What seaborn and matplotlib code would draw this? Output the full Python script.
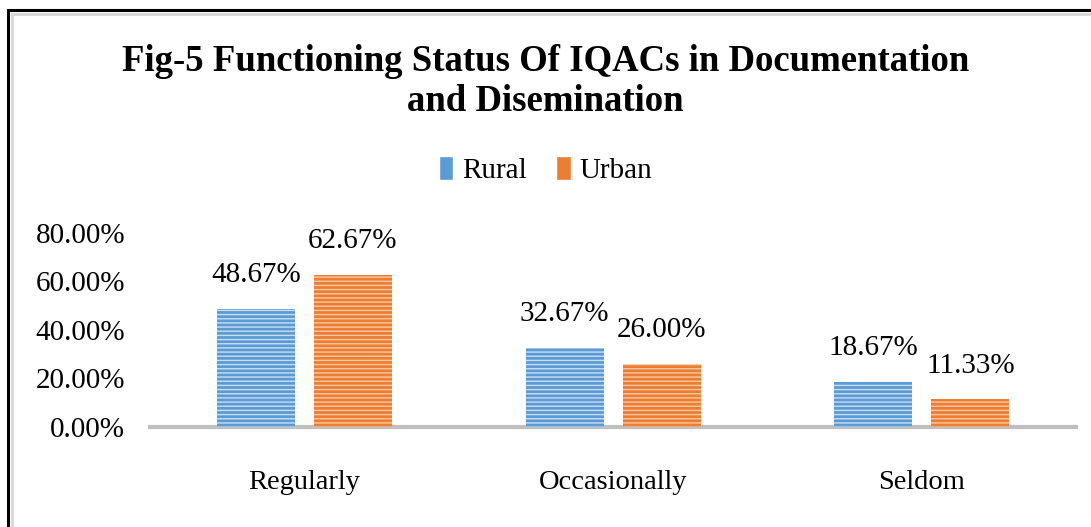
import pandas as pd
import matplotlib.pyplot as plt
import seaborn as sns
from matplotlib.patches import Rectangle

# Datos del grafico
categorias = ["Regularly", "Occasionally", "Seldom"]
rural = [48.67, 32.67, 18.67]
urban = [62.67, 26.00, 11.33]
series = ["Rural", "Urban"]
yticks = [0, 20, 40, 60, 80]
ytick_labels = ["0.00%", "20.00%", "40.00%", "60.00%", "80.00%"]

df = pd.DataFrame({
    "categoria": categorias * 2,
    "serie": ["Rural"] * 3 + ["Urban"] * 3,
    "valor": rural + urban,
})

sns.set_style("white")
plt.rcParams["font.family"] = ["Liberation Serif", "DejaVu Serif"]
plt.rcParams["text.color"] = "black"
plt.rcParams["xtick.color"] = "black"
plt.rcParams["ytick.color"] = "black"

fig = plt.figure(figsize=(10.91, 5.27), dpi=100)
ax = fig.add_axes([0.1375, 0.19, 0.849, 0.368])

colores = {"Rural": "#5B9BD5", "Urban": "#ED7D31"}
claros = {"Rural": "#C9DDF1", "Urban": "#F8C9A6"}
sns.barplot(data=df, x="categoria", y="valor", hue="serie", palette=colores,
            width=0.628, gap=0.196, ax=ax, legend=True, saturation=1)

plt.rcParams["hatch.linewidth"] = 1.2
for cont, s in zip(ax.containers, series):
    for p in cont:
        p.set_hatch("----")
        p.set_edgecolor(claros[s])
        p.set_linewidth(0)
    ax.bar_label(cont, labels=[f"{v:.2f}%" for v in cont.datavalues],
                 fontsize=21, padding=15, color="black")

ax.set_ylim(0, 80)
ax.set_xlim(-0.5, 2.5)
ax.set_yticks(yticks)
ax.set_yticklabels(ytick_labels, fontsize=21)
ax.tick_params(axis="y", length=0, pad=18, labelcolor="black")
ax.tick_params(axis="x", length=0, pad=31, labelsize=20.5, labelcolor="black")
ax.set_xlabel("")
ax.set_ylabel("")
for lado in ["top", "right", "left"]:
    ax.spines[lado].set_visible(False)
ax.spines["bottom"].set_color("#BFBFBF")
ax.spines["bottom"].set_linewidth(3)
ax.spines["bottom"].set_zorder(0)

handles, labels = ax.get_legend_handles_labels()
ax.legend_.remove()
fig.legend(handles, labels, loc="center", bbox_to_anchor=(0.5, 0.678),
           ncol=2, frameon=False, fontsize=21, handlelength=0.5,
           handleheight=0.9, handletextpad=0.3, columnspacing=1.0,
           labelcolor="black")

fig.text(0.5, 0.845, "Fig-5 Functioning Status Of IQACs in Documentation\nand Disemination",
         ha="center", va="center", fontsize=26.5, fontweight="bold",
         linespacing=1.2, color="black")

# Marco
fig.patches.append(Rectangle((8 / 1091, -0.1), 1.1, 1.1 - 10 / 527, transform=fig.transFigure,
                             fill=False, edgecolor="black", linewidth=2.2))
fig.patches.append(Rectangle((12 / 1091, -0.1), 1.1, 1.1 - 14 / 527, transform=fig.transFigure,
                             fill=False, edgecolor="#D9D9D9", linewidth=2.2))

plt.savefig("out.png", dpi=100)
